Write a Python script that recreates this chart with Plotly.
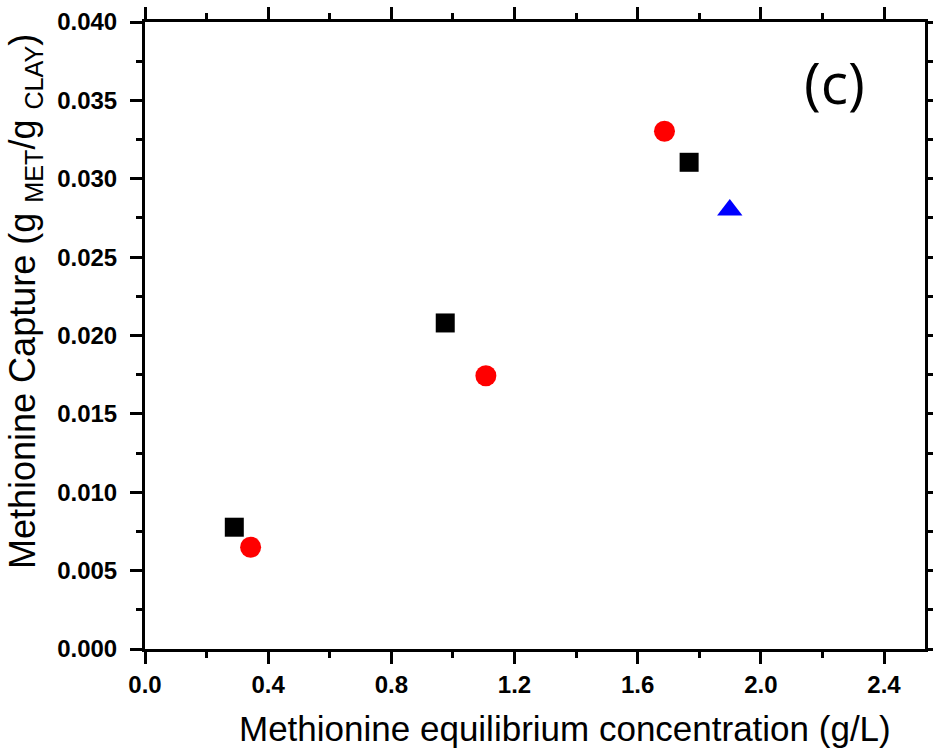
import plotly.graph_objects as go

sq_x = [0.290, 0.975, 1.767]
sq_y = [0.00777, 0.0208, 0.03105]
ci_x = [0.343, 1.107, 1.687]
ci_y = [0.00649, 0.01743, 0.03303]
tr_x = [1.899]
tr_y = [0.0280]

x_title = "Methionine equilibrium concentration (g/L)"
y_title = "Methionine Capture (g <sub>MET</sub>/g <sub>CLAY</sub>)"
panel_label = "(c)"

fig = go.Figure()
fig.add_trace(go.Scatter(x=sq_x, y=sq_y, mode="markers",
                         marker=dict(symbol="square", size=19, color="black")))
fig.add_trace(go.Scatter(x=ci_x, y=ci_y, mode="markers",
                         marker=dict(symbol="circle", size=21, color="#ff0000")))
fig.add_trace(go.Scatter(x=tr_x, y=tr_y, mode="markers",
                         marker=dict(symbol="triangle-up", size=22, color="#0000ff")))

axis_common = dict(
    showline=True, linecolor="black", linewidth=3, mirror="ticks",
    ticks="outside", ticklen=12, tickwidth=3, tickcolor="black",
    showgrid=False, zeroline=False, automargin=False,
    tickfont=dict(family="Liberation Sans, Arial", size=24, color="black", weight="bold"),
)

W, H = 933, 749
L, R, T, B = 145, 925, 22, 649


def px(xp):
    return (xp - L) / (R - L)


def py(yp):
    return (B - yp) / (B - T)


fig.update_layout(
    width=W, height=H, autosize=False,
    margin=dict(l=L, r=W - R, t=T, b=H - B, pad=0, autoexpand=False),
    plot_bgcolor="white", paper_bgcolor="white",
    showlegend=False,
    xaxis=dict(axis_common, range=[0, 2.533], tickvals=[0, 0.4, 0.8, 1.2, 1.6, 2.0, 2.4],
               ticktext=["0.0", "0.4", "0.8", "1.2", "1.6", "2.0", "2.4"],
               minor=dict(dtick=0.2, tick0=0, ticks="outside", ticklen=6, tickwidth=3, tickcolor="black")),
    yaxis=dict(axis_common, range=[0, 0.040], dtick=0.005, tickformat=".3f",
               ticklabelstandoff=8,
               minor=dict(dtick=0.0025, tick0=0, ticks="outside", ticklen=6, tickwidth=3, tickcolor="black")),
    annotations=[
        dict(text=panel_label, x=px(834), y=py(82), xref="paper", yref="paper", showarrow=False,
             xanchor="center", yanchor="middle",
             font=dict(family="Open Sans", size=57, color="black")),
        dict(text=x_title, x=px(565), y=py(728), xref="paper", yref="paper", showarrow=False,
             xanchor="center", yanchor="middle",
             font=dict(family="Liberation Sans, Arial", size=35, color="black")),
        dict(text=y_title, x=px(25), y=py(302), xref="paper", yref="paper", showarrow=False,
             xanchor="center", yanchor="middle", textangle=-90,
             font=dict(family="Liberation Sans, Arial", size=36, color="black")),
    ],
)

fig.write_html(
    "out.html",
    config={"responsive": False, "displayModeBar": False},
    post_script=(
        "document.body.style.margin='0';"
        "document.documentElement.style.overflow='hidden';"
        "var gd=document.getElementById('{plot_id}');"
        "Plotly.relayout(gd,{width:933,height:749});"
    ),
)
